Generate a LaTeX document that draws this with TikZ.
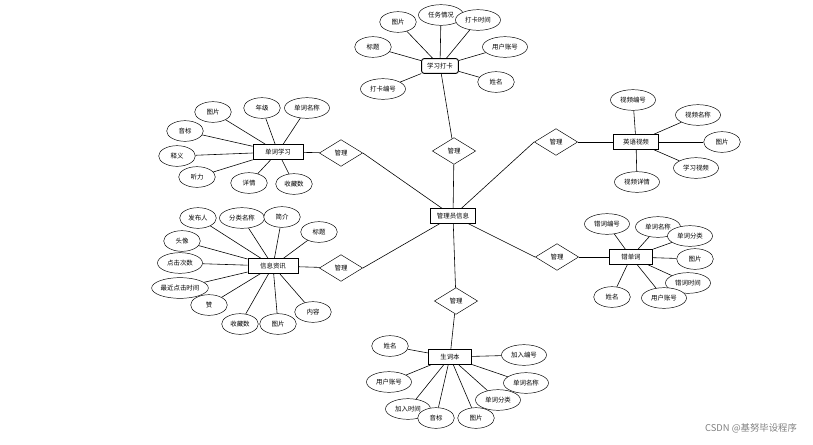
\documentclass[tikz,border=0pt]{standalone}
\usepackage{fontspec}
\setmainfont{Noto Sans CJK SC}
\usetikzlibrary{shapes.geometric, backgrounds}

\tikzset{
  entbox/.style={draw, thick, fill=white, minimum width=1.35cm, minimum height=0.44cm, inner sep=1pt, font=\fontsize{5.5}{6}\selectfont},
  attr/.style={draw, ellipse, fill=white, minimum width=1.1cm, minimum height=0.62cm, inner sep=0pt, font=\fontsize{5.5}{6}\selectfont},
  wattr/.style={attr, minimum width=1.35cm},
  rel/.style={draw, diamond, aspect=1.7, fill=white, minimum width=1.3cm, minimum height=0.8cm, inner sep=0pt, font=\fontsize{5.5}{6}\selectfont},
  link/.style={draw, line width=0.5pt}
}

\begin{document}
\begin{tikzpicture}[x=0.03cm, y=-0.03cm]
\useasboundingbox (0,0) rectangle (813,444);

% CENTRE
\node[entbox] (admin) at (453,216) {管理员信息};

% RELATIONS
\node[rel] (r1) at (454,151) {管理};
\node[rel] (r2) at (341,153) {管理};
\node[rel] (r3) at (556,142) {管理};
\node[rel] (r4) at (341,268) {管理};
\node[rel] (r5) at (557,257) {管理};
\node[rel] (r6) at (456,301) {管理};

% ENTITIES
\node[entbox, rounded corners=2pt, minimum width=1.1cm] (daka) at (440,66) {学习打卡};
\node[entbox, minimum width=1.5cm] (xuexi) at (278,152) {单词学习};
\node[entbox] (video) at (636,142) {英语视频};
\node[entbox, minimum width=1.5cm] (zixun) at (273,266) {信息资讯};
\node[entbox, minimum width=1.3cm] (cuo) at (631,257) {错单词};
\node[entbox, minimum width=1.3cm] (shengci) at (450,357) {生词本};

% ATTRIBUTES: 学习打卡
\node[attr] (dk1) at (398,22) {图片};
\node[wattr] (dk2) at (441,15) {任务情况};
\node[wattr] (dk3) at (478,20) {打卡时间};
\node[attr] (dk4) at (373,47) {标题};
\node[wattr] (dk5) at (505,47) {用户账号};
\node[wattr] (dk6) at (383,89) {打卡编号};
\node[attr] (dk7) at (496,82) {姓名};

% ATTRIBUTES: 单词学习
\node[attr] (xx1) at (213,112) {图片};
\node[attr] (xx2) at (262,108) {年级};
\node[wattr] (xx3) at (307,108) {单词名称};
\node[attr] (xx4) at (185,131) {音标};
\node[attr] (xx5) at (177,156) {释义};
\node[attr] (xx6) at (197,177) {听力};
\node[attr] (xx7) at (249,183) {详情};
\node[attr] (xx8) at (294,184) {收藏数};

% ATTRIBUTES: 英语视频
\node[wattr] (sp1) at (633,100) {视频编号};
\node[wattr] (sp2) at (698,115) {视频名称};
\node[attr] (sp3) at (722,142) {图片};
\node[wattr] (sp4) at (696,168) {学习视频};
\node[wattr] (sp5) at (637,182) {视频详情};

% ATTRIBUTES: 信息资讯
\node[attr] (zx1) at (198,218) {发布人};
\node[wattr] (zx2) at (242,218) {分类名称};
\node[attr] (zx3) at (282,217) {简介};
\node[attr] (zx4) at (319,232) {标题};
\node[attr] (zx5) at (182,241) {头像};
\node[wattr] (zx6) at (180,263) {点击次数};
\node[attr, minimum width=1.7cm] (zx7) at (180,288) {最近点击时间};
\node[attr] (zx8) at (209,305) {赞};
\node[attr] (zx9) at (240,324) {收藏数};
\node[attr] (zx10) at (278,324) {图片};
\node[attr] (zx11) at (313,312) {内容};

% ATTRIBUTES: 错单词
\node[wattr] (cc1) at (607,224) {错词编号};
\node[wattr] (cc2) at (658,227) {单词名称};
\node[wattr] (cc3) at (690,236) {单词分类};
\node[attr] (cc4) at (695,259) {图片};
\node[wattr] (cc5) at (688,283) {错词时间};
\node[wattr] (cc6) at (664,298) {用户账号};
\node[attr] (cc7) at (612,297) {姓名};

% ATTRIBUTES: 生词本
\node[attr] (sc1) at (390,346) {姓名};
\node[wattr] (sc2) at (389,382) {用户账号};
\node[wattr] (sc3) at (408,409) {加入时间};
\node[attr] (sc4) at (436,418) {音标};
\node[attr] (sc5) at (476,418) {图片};
\node[wattr] (sc6) at (498,400) {单词分类};
\node[wattr] (sc7) at (526,383) {单词名称};
\node[wattr] (sc8) at (524,355) {加入编号};

% LINKS
\begin{pgfonlayer}{background}
\draw[link] (admin) -- (r1) -- (daka);
\draw[link] (admin) -- (r2.east); \draw[link] (r2) -- (xuexi);
\draw[link] (admin) -- (r3.west); \draw[link] (r3) -- (video);
\draw[link] (admin) -- (r4.east); \draw[link] (r4) -- (zixun);
\draw[link] (admin) -- (r5.west); \draw[link] (r5) -- (cuo);
\draw[link] (admin) -- (r6) -- (shengci);

\foreach \a in {dk1,dk2,dk3,dk4,dk5,dk6,dk7} \draw[link] (\a) -- (daka);
\foreach \a in {xx1,xx2,xx3,xx4,xx5,xx6,xx7,xx8} \draw[link] (\a) -- (xuexi);
\foreach \a in {sp1,sp2,sp3,sp4,sp5} \draw[link] (\a) -- (video);
\foreach \a in {zx1,zx2,zx3,zx4,zx5,zx6,zx7,zx8,zx9,zx10,zx11} \draw[link] (\a) -- (zixun);
\foreach \a in {cc1,cc2,cc3,cc4,cc5,cc6,cc7} \draw[link] (\a) -- (cuo);
\foreach \a in {sc1,sc2,sc3,sc4,sc5,sc6,sc7,sc8} \draw[link] (\a) -- (shengci);
\end{pgfonlayer}

% NOTES
\node[text=gray, font=\fontsize{8}{9}\selectfont] (mark) at (751,428) {CSDN @基努毕设程序};

\end{tikzpicture}
\end{document}
